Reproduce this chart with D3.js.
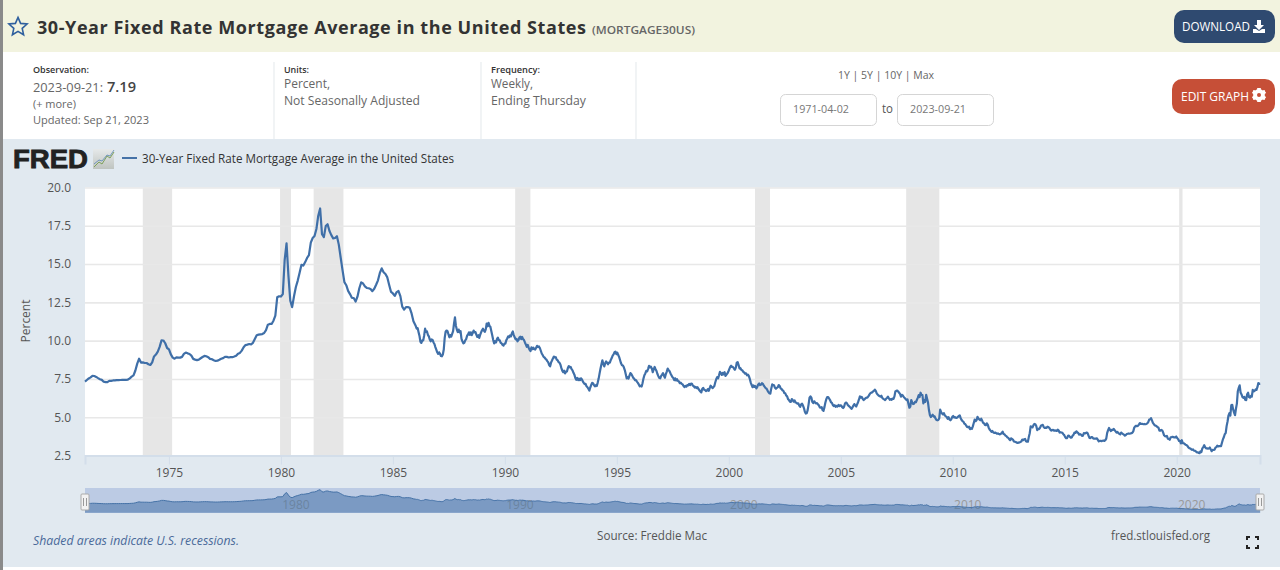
<!DOCTYPE html>
<html>
<head>
<meta charset="utf-8">
<script src="https://cdn.jsdelivr.net/npm/d3@7"></script>
<style>
html, body { margin: 0; padding: 0; background: #fff; overflow: hidden; }
svg { display: block; font-family: "Open Sans", sans-serif; }
</style>
</head>
<body>
<div id="chart"></div>
<script>
// One reading a month, April 1971 to December 1985
const rates1970s = [7.33,7.43,7.53,7.60,7.70,7.69,7.63,7.55,7.48,
  7.44,7.32,7.29,7.29,7.37,7.37,7.40,7.40,7.42,7.42,7.43,7.44,
  7.44,7.44,7.46,7.54,7.65,7.73,8.05,8.50,8.82,8.57,8.58,8.54,
  8.54,8.46,8.41,8.58,8.97,9.09,9.28,9.59,10.02,10.01,9.83,9.52,
  9.43,9.10,8.89,8.82,8.91,8.89,8.89,8.94,9.13,9.22,9.17,9.13,
  9.02,8.81,8.76,8.73,8.76,8.85,8.93,9.00,8.98,8.92,8.81,8.79,
  8.72,8.67,8.69,8.75,8.82,8.86,8.94,8.94,8.90,8.92,8.92,8.96,
  9.01,9.15,9.20,9.35,9.57,9.71,9.74,9.78,9.76,9.86,10.11,10.35,
  10.39,10.41,10.43,10.50,10.69,11.04,11.09,11.09,11.30,11.64,12.83,12.90];
const rates1980to85 = [12.88,13.04,15.28,16.35,14.26,12.61,12.19,12.90,13.50,13.92,14.43,14.95,
  14.90,15.13,15.40,15.58,16.40,16.70,16.83,17.29,18.16,18.63,16.95,16.76,
  17.48,17.60,17.16,16.89,16.68,16.70,16.82,16.27,15.43,14.61,13.82,13.62,
  13.25,13.04,12.80,12.78,12.55,12.87,13.42,13.81,13.73,13.54,13.44,13.42,
  13.37,13.23,13.39,13.65,13.94,14.42,14.72,14.47,14.35,14.13,13.64,13.18,
  13.08,12.92,13.17,13.24,12.91,12.22,12.03,12.19,12.19,12.14,11.78,11.26];

// Two readings a month from 1986 on
const rates1986to89 = [10.95,10.78,10.82,10.55,10.30,9.92,9.85,10.02,10.02,10.34,10.78,10.58,10.60,10.38,10.28,10.08,9.96,10.08,10.05,9.88,9.78,9.58,9.41,9.24,
  9.14,9.24,9.14,9.00,8.98,9.10,9.42,10.18,10.58,10.66,10.62,10.42,10.22,10.36,10.26,10.44,10.62,11.12,11.52,10.98,10.72,10.56,10.72,10.54,
  10.62,10.12,9.96,9.82,9.86,10.02,10.10,10.32,10.40,10.54,10.38,10.54,10.36,10.50,10.66,10.54,10.56,10.38,10.24,10.36,10.18,10.38,10.54,10.68,
  10.78,10.66,10.58,10.74,11.12,10.94,11.16,10.96,10.90,10.62,10.34,10.04,9.82,9.96,9.88,10.10,10.20,10.04,10.02,9.86,9.82,9.72,9.68,9.80];
const rates1990s = [9.80,10.02,10.14,10.28,10.22,10.34,10.28,10.48,10.60,10.36,10.22,10.08,10.12,9.96,10.02,10.20,10.26,10.10,10.24,10.10,10.04,9.88,9.74,9.60,
  9.72,9.54,9.40,9.32,9.56,9.44,9.54,9.44,9.42,9.54,9.66,9.58,9.62,9.52,9.34,9.16,9.06,8.94,8.90,8.82,8.76,8.66,8.58,8.40,
  8.32,8.58,8.70,8.84,8.96,8.90,8.92,8.76,8.72,8.60,8.56,8.44,8.22,8.04,7.94,8.04,7.86,7.98,7.98,8.22,8.34,8.26,8.28,8.14,
  8.06,7.90,7.78,7.56,7.44,7.56,7.42,7.52,7.42,7.54,7.48,7.34,7.24,7.16,7.18,7.02,6.96,6.86,6.74,6.94,7.10,7.24,7.22,7.10,
  7.02,7.10,7.04,7.26,7.52,7.86,8.18,8.46,8.72,8.48,8.32,8.52,8.64,8.56,8.46,8.56,8.56,8.74,8.86,9.02,9.10,9.24,9.28,9.12,
  9.22,9.06,8.92,8.72,8.52,8.40,8.38,8.26,8.08,7.82,7.54,7.62,7.52,7.72,7.88,7.82,7.70,7.58,7.52,7.42,7.42,7.32,7.24,7.14,
  7.02,7.06,7.00,7.22,7.52,7.74,7.86,8.02,8.00,8.16,8.36,8.26,8.30,8.18,7.94,8.12,8.28,8.14,8.02,7.82,7.68,7.56,7.54,7.70,
  7.78,7.88,7.70,7.58,7.82,7.98,8.18,8.08,8.00,7.86,7.74,7.62,7.56,7.42,7.54,7.40,7.48,7.36,7.34,7.22,7.26,7.18,7.14,7.04,
  6.96,7.04,7.00,7.10,7.08,7.18,7.10,7.20,7.18,7.06,7.02,6.94,6.98,6.90,6.96,6.84,6.76,6.68,6.62,6.84,6.92,6.80,6.78,6.70,
  6.74,6.84,6.72,6.90,7.06,6.98,6.90,6.96,7.04,7.28,7.48,7.62,7.54,7.74,7.96,7.88,7.76,7.90,7.80,7.94,7.70,7.78,7.86,7.98];
const rates2000s = [8.14,8.28,8.36,8.28,8.28,8.18,8.10,8.24,8.56,8.60,8.40,8.18,8.20,8.08,8.06,7.96,7.92,7.84,7.86,7.74,7.78,7.68,7.50,7.26,
  7.10,6.96,7.08,6.98,7.02,6.88,6.98,7.14,7.20,7.10,7.12,7.22,7.18,7.06,6.98,6.90,6.86,6.74,6.64,6.56,6.54,6.88,7.14,7.10,
  7.08,6.92,6.86,6.92,6.96,7.10,7.04,6.88,6.84,6.76,6.72,6.58,6.56,6.42,6.36,6.18,6.12,6.02,6.00,6.18,6.12,6.02,6.10,5.96,
  5.94,5.88,5.90,5.76,5.68,5.84,5.88,5.76,5.60,5.36,5.24,5.26,5.46,5.84,6.28,6.36,6.28,6.00,5.92,6.04,5.96,5.90,5.92,5.84,
  5.78,5.64,5.62,5.66,5.46,5.42,5.66,5.96,6.18,6.32,6.32,6.22,6.12,5.98,5.94,5.80,5.72,5.78,5.68,5.74,5.70,5.80,5.72,5.78,
  5.76,5.66,5.60,5.68,5.90,5.96,5.92,5.80,5.74,5.68,5.62,5.54,5.64,5.76,5.86,5.76,5.70,5.84,5.98,6.16,6.36,6.28,6.32,6.20,
  6.12,6.18,6.24,6.28,6.28,6.36,6.46,6.56,6.60,6.62,6.68,6.72,6.80,6.72,6.56,6.48,6.42,6.38,6.34,6.40,6.26,6.20,6.16,6.12,
  6.20,6.26,6.34,6.24,6.14,6.18,6.14,6.22,6.20,6.36,6.68,6.72,6.74,6.68,6.60,6.52,6.34,6.46,6.42,6.32,6.26,6.18,6.12,6.16,
  5.88,5.62,5.70,6.12,5.98,5.86,5.88,6.00,5.98,6.12,6.26,6.44,6.32,6.60,6.46,6.44,5.90,6.12,6.00,6.46,6.20,5.96,5.47,5.14,
  5.01,5.10,5.16,5.04,5.06,4.92,4.82,4.80,4.82,4.92,5.50,5.34,5.24,5.18,5.26,5.12,5.06,5.02,4.90,5.00,4.86,4.80,4.88,5.02];
const rates2010s = [5.08,4.98,5.00,4.96,4.96,5.02,5.08,5.12,4.94,4.82,4.74,4.70,4.58,4.54,4.44,4.36,4.34,4.38,4.22,4.28,4.24,4.40,4.62,4.84,
  4.74,4.80,5.02,4.92,4.86,4.80,4.90,4.78,4.63,4.60,4.50,4.48,4.60,4.52,4.32,4.20,4.12,4.04,4.10,4.00,3.98,4.00,3.96,3.92,
  3.94,3.90,3.88,3.92,3.96,4.06,3.90,3.88,3.80,3.76,3.68,3.66,3.56,3.50,3.62,3.58,3.54,3.42,3.40,3.38,3.34,3.32,3.34,3.36,
  3.38,3.42,3.54,3.50,3.56,3.58,3.43,3.40,3.40,3.70,3.96,4.40,4.38,4.34,4.48,4.56,4.54,4.42,4.16,4.24,4.22,4.30,4.44,4.48,
  4.50,4.36,4.30,4.32,4.30,4.38,4.36,4.30,4.20,4.12,4.16,4.17,4.12,4.14,4.12,4.10,4.18,4.14,4.00,4.02,4.00,3.98,3.89,3.83,
  3.70,3.63,3.64,3.78,3.80,3.72,3.66,3.68,3.80,3.86,4.00,3.98,4.08,4.02,3.96,3.86,3.90,3.86,3.78,3.80,3.96,3.94,3.96,4.00,
  3.96,3.80,3.65,3.64,3.70,3.70,3.62,3.60,3.61,3.60,3.62,3.52,3.42,3.46,3.45,3.44,3.46,3.48,3.45,3.50,3.60,3.98,4.16,4.30,
  4.18,4.10,4.18,4.16,4.24,4.16,4.08,4.00,4.04,3.96,3.92,3.88,4.00,3.94,3.90,3.86,3.80,3.84,3.90,3.92,3.94,3.92,3.94,3.96,
  3.99,4.08,4.32,4.40,4.44,4.42,4.44,4.52,4.62,4.56,4.56,4.56,4.54,4.56,4.54,4.56,4.60,4.68,4.85,4.86,4.94,4.79,4.63,4.55,
  4.46,4.45,4.41,4.35,4.31,4.12,4.12,4.17,4.14,4.00,3.82,3.76,3.75,3.78,3.60,3.58,3.53,3.68,3.69,3.72,3.70,3.68,3.68,3.74];
const rates2020s = [3.64,3.57,3.45,3.45,3.29,3.50,3.31,3.30,3.26,3.20,3.18,3.13,3.03,2.98,2.96,2.91,2.87,2.90,2.81,2.81,2.77,2.71,2.71,2.67,
  2.65,2.77,2.73,2.97,3.05,3.17,3.04,2.97,2.96,2.95,2.96,3.02,2.90,2.78,2.87,2.86,2.88,3.01,3.05,3.14,3.10,3.11,3.12,3.11,
  3.33,3.55,3.69,3.89,3.96,4.42,4.72,5.11,5.27,5.10,5.78,5.81,5.51,5.30,5.13,5.55,5.89,6.70,6.92,7.08,6.61,6.49,6.31,6.27,
  6.33,6.13,6.12,6.50,6.60,6.32,6.28,6.39,6.35,6.79,6.69,6.71,6.81,6.78,6.96,7.23,7.18,7.19];

// start / end of each recession, as fractions of a year
const recessionStarts = [1973.83, 1979.96, 1981.46, 1990.46, 2001.17, 2007.92, 2020.11];
const recessionEnds = [1975.14, 1980.45, 1982.79, 1991.14, 2001.84, 2009.4, 2020.26];

const xTicks = [1975, 1980, 1985, 1990, 1995, 2000, 2005, 2010, 2015, 2020];
const yTicks = [2.5, 5, 7.5, 10, 12.5, 15, 17.5, 20];
const navTicks = [1980, 1990, 2000, 2010, 2020];

const monthly = (values, start) => values.map((v, i) => ({ t: start + i / 12, v }));
const twiceMonthly = (values, start) => values.map((v, i) => ({ t: start + (i + 0.5) / 24, v }));

const series = [
  ...monthly(rates1970s, 1971.25),
  ...monthly(rates1980to85, 1980),
  ...twiceMonthly(rates1986to89, 1986),
  ...twiceMonthly(rates1990s, 1990),
  ...twiceMonthly(rates2000s, 2000),
  ...twiceMonthly(rates2010s, 2010),
  ...twiceMonthly(rates2020s, 2020)
];

const width = 1280, height = 570;
const margin = { top: 187.5, right: 1260, bottom: 455.5, left: 85 };

const svg = d3.select('#chart').append('svg')
  .attr('width', width)
  .attr('height', height);

const textColor = '#555';

function label(x, y, str, o = {}) {
  const t = svg.append('text')
    .attr('x', x).attr('y', y)
    .attr('font-size', o.size || 12)
    .attr('fill', o.fill || textColor)
    .attr('font-weight', o.weight || 400)
    .attr('text-anchor', o.anchor || 'start')
    .text(str);
  if (o.family) t.attr('font-family', o.family);
  if (o.italic) t.attr('font-style', 'italic');
  if (o.w) t.attr('textLength', o.w).attr('lengthAdjust', o.spaced ? 'spacing' : 'spacingAndGlyphs');
  return t;
}

// page blocks
svg.append('rect').attr('width', width).attr('height', 52).attr('fill', '#f2f3df');
svg.append('rect').attr('y', 139).attr('width', width).attr('height', 428).attr('fill', '#e1e9f0');
svg.append('rect').attr('width', 3).attr('height', height).attr('fill', '#8a8a8a');

// header
svg.append('path')
  .attr('transform', 'translate(18,27)')
  .attr('d', d3.range(10).map(i => {
    const r = i % 2 ? 4.4 : 9.6, a = -Math.PI / 2 + i * Math.PI / 5;
    return (i ? 'L' : 'M') + (r * Math.cos(a)).toFixed(1) + ',' + (r * Math.sin(a)).toFixed(1);
  }).join('') + 'Z')
  .attr('fill', 'none').attr('stroke', '#2f5f9e').attr('stroke-width', 1.6);
label(37, 34, '30-Year Fixed Rate Mortgage Average in the United States', { size: 18, weight: 700, fill: '#333', w: 549, spaced: true });
label(592, 34, '(MORTGAGE30US)', { size: 11, weight: 600, fill: '#666', w: 103 });

svg.append('rect').attr('x', 1174).attr('y', 10).attr('width', 101).attr('height', 33).attr('rx', 10).attr('fill', '#2f4a70');
label(1182, 31, 'DOWNLOAD', { size: 12.5, fill: '#fff', w: 68 });
svg.append('path')
  .attr('transform', 'translate(1254,20)')
  .attr('d', 'M3,0h4v5h3l-5,5l-5,-5h3zM-1,9h3l3,2l3,-2h3v4h-12z')
  .attr('fill', '#fff');

svg.append('rect').attr('x', 1172).attr('y', 79).attr('width', 103).attr('height', 35).attr('rx', 10).attr('fill', '#c64f37');
label(1181, 101, 'EDIT GRAPH', { size: 12.5, fill: '#fff', w: 68 });
const gear = svg.append('g').attr('transform', 'translate(1259,95)');
gear.append('circle').attr('r', 4.2).attr('fill', 'none').attr('stroke', '#fff').attr('stroke-width', 3.4);
gear.selectAll('rect').data(d3.range(6)).enter().append('rect')
  .attr('x', -1.6).attr('y', -7).attr('width', 3.2).attr('height', 14).attr('fill', '#fff')
  .attr('transform', d => `rotate(${d * 30 * 2})`);
gear.append('circle').attr('r', 2).attr('fill', '#c64f37');

// meta columns
[274, 481, 636].forEach(x => {
  svg.append('line').attr('x1', x).attr('x2', x).attr('y1', 62).attr('y2', 139).attr('stroke', '#e8ecef').attr('stroke-width', 1.2);
});
label(33, 73, 'Observation:', { size: 9.5, weight: 600, fill: '#333', w: 56 });
label(33, 92, '2023-09-21:', { size: 12, fill: '#666', w: 70 });
label(107, 92, '7.19', { size: 14, weight: 600, fill: '#444', w: 29 });
label(33, 108, '(+ more)', { size: 10.5, fill: '#666', w: 43 });
label(33, 124, 'Updated: Sep 21, 2023', { size: 11, fill: '#666', w: 116 });
label(284, 73, 'Units:', { size: 9.5, weight: 600, fill: '#333', w: 25 });
label(284, 88, 'Percent,', { size: 12, fill: '#666', w: 46 });
label(284, 105, 'Not Seasonally Adjusted', { size: 12, fill: '#666', w: 136 });
label(491, 73, 'Frequency:', { size: 9.5, weight: 600, fill: '#333', w: 49 });
label(491, 88, 'Weekly,', { size: 12, fill: '#666', w: 42 });
label(491, 105, 'Ending Thursday', { size: 12, fill: '#666', w: 95 });

label(886, 79, '1Y | 5Y | 10Y | Max', { size: 11, anchor: 'middle', fill: '#666', w: 96 });
[[780, '1971-04-02'], [897, '2023-09-21']].forEach(([x, s]) => {
  svg.append('rect').attr('x', x + 0.5).attr('y', 94.5).attr('width', 96).attr('height', 31).attr('rx', 5)
    .attr('fill', '#fff').attr('stroke', '#d5d5d5');
  label(x + 13, 113, s, { size: 10.5, fill: '#777', w: 56 });
});
label(882, 113, 'to', { size: 12, fill: '#555', w: 11 });

// FRED logo + legend
label(13, 168, 'FRED', { size: 25, weight: 700, fill: '#222', family: '"Liberation Sans", sans-serif', w: 75 })
  .attr('stroke', '#222').attr('stroke-width', 0.8);
const grad = svg.append('defs').append('linearGradient').attr('id', 'logoBg').attr('x2', 0).attr('y2', 1);
grad.append('stop').attr('offset', 0).attr('stop-color', '#e6e9ea');
grad.append('stop').attr('offset', 1).attr('stop-color', '#bfc4c0');
svg.append('rect').attr('x', 93).attr('y', 149).attr('width', 21).attr('height', 20).attr('fill', 'url(#logoBg)');
svg.append('path').attr('d', 'M94,167l5,-5l3,2l5,-8l3,2l4,-6').attr('fill', 'none').attr('stroke', '#7da05a').attr('stroke-width', 1);
svg.append('path').attr('d', 'M94,164l5,-4l3,1l5,-6l3,1l4,-6').attr('fill', 'none').attr('stroke', '#5b86b5').attr('stroke-width', 0.8);
svg.append('line').attr('x1', 122).attr('x2', 137).attr('y1', 158).attr('y2', 158).attr('stroke', '#4572a7').attr('stroke-width', 2);
label(142, 163, '30-Year Fixed Rate Mortgage Average in the United States', { size: 12, fill: '#333', w: 312 });

// main plot
const xScale = d3.scaleLinear().domain([1971.25, 2023.72]).range([margin.left, margin.right]);
const yScale = d3.scaleLinear().domain([2.5, 20]).range([margin.bottom, margin.top]);

svg.append('rect')
  .attr('x', margin.left).attr('y', margin.top)
  .attr('width', margin.right - margin.left).attr('height', margin.bottom - margin.top)
  .attr('fill', '#fff');

svg.append('g')
  .selectAll('rect')
  .data(recessionStarts)
  .enter()
  .append('rect')
  .attr('x', d => xScale(d))
  .attr('y', margin.top)
  .attr('width', (d, i) => xScale(recessionEnds[i]) - xScale(d))
  .attr('height', margin.bottom - margin.top)
  .attr('fill', '#e6e6e6');

const yAxis = d3.axisLeft(yScale)
  .tickValues(yTicks)
  .tickFormat(d3.format('.1f'))
  .tickSize(-(margin.right - margin.left))
  .tickPadding(14);
const yG = svg.append('g')
  .attr('transform', `translate(${margin.left},0)`)
  .call(yAxis);
yG.select('.domain').remove();
yG.selectAll('line').attr('stroke', '#e8e8e8').attr('stroke-width', 1.6);
yG.selectAll('text').attr('font-size', 12).attr('fill', '#555').attr('font-family', '"Open Sans", sans-serif');
yG.selectAll('.tick').filter(d => d === 2.5).select('line').remove();

const xAxis = d3.axisBottom(xScale)
  .tickValues(xTicks)
  .tickFormat(d3.format('d'))
  .tickSize(9)
  .tickPadding(4);
const xG = svg.append('g')
  .attr('transform', `translate(0,${margin.bottom})`)
  .call(xAxis);
xG.select('.domain').attr('stroke', '#d3deea').attr('stroke-width', 2);
xG.selectAll('line').attr('stroke', '#d3deea');
xG.selectAll('text').attr('font-size', 12).attr('fill', '#555').attr('font-family', '"Open Sans", sans-serif');

svg.append('text')
  .attr('transform', 'translate(30,321) rotate(-90)')
  .attr('text-anchor', 'middle')
  .attr('font-size', 12)
  .attr('fill', '#555')
  .text('Percent');

const rateLine = d3.line().x(d => xScale(d.t)).y(d => yScale(d.v));
svg.append('path')
  .datum(series)
  .attr('d', rateLine)
  .attr('fill', 'none')
  .attr('stroke', '#3f6fa8')
  .attr('stroke-width', 2.2)
  .attr('stroke-linejoin', 'round');

// navigator
const navY = d3.scaleLinear().domain([0, 20]).range([512.8, 488]);
svg.append('rect').attr('x', margin.left).attr('y', 488).attr('width', margin.right - margin.left).attr('height', 25).attr('fill', '#bccbe4');
navTicks.forEach(d => {
  label(xScale(d) + 15, 509, d, { size: 12, anchor: 'middle', fill: '#999' });
});
const navArea = d3.area().x(d => xScale(d.t)).y0(512.8).y1(d => navY(d.v));
svg.append('path').datum(series).attr('d', navArea).attr('fill', '#4572a7').attr('fill-opacity', 0.55);
svg.append('path').datum(series).attr('d', d3.line().x(d => xScale(d.t)).y(d => navY(d.v)))
  .attr('fill', 'none').attr('stroke', '#4572a7').attr('stroke-width', 1);
[margin.left, margin.right].forEach(x => {
  svg.append('rect').attr('x', x - 4).attr('y', 494).attr('width', 8).attr('height', 16).attr('rx', 1)
    .attr('fill', '#f2f2f2').attr('stroke', '#aaa');
  svg.append('path').attr('d', `M${x - 1.5},498v8M${x + 1.5},498v8`).attr('stroke', '#999').attr('fill', 'none');
});

// footer
label(33, 545, 'Shaded areas indicate U.S. recessions.', { size: 12, italic: true, fill: '#4a6a9a', w: 206 });
label(597, 540, 'Source: Freddie Mac', { size: 12, fill: '#555', w: 110 });
label(1111, 540, 'fred.stlouisfed.org', { size: 12, fill: '#555', w: 99 });
svg.append('path')
  .attr('d', 'M1247,540v-3h3M1255,537h3v3M1258,545v3h-3M1250,548h-3v-3')
  .attr('fill', 'none').attr('stroke', '#222').attr('stroke-width', 2);
</script>
</body>
</html>
